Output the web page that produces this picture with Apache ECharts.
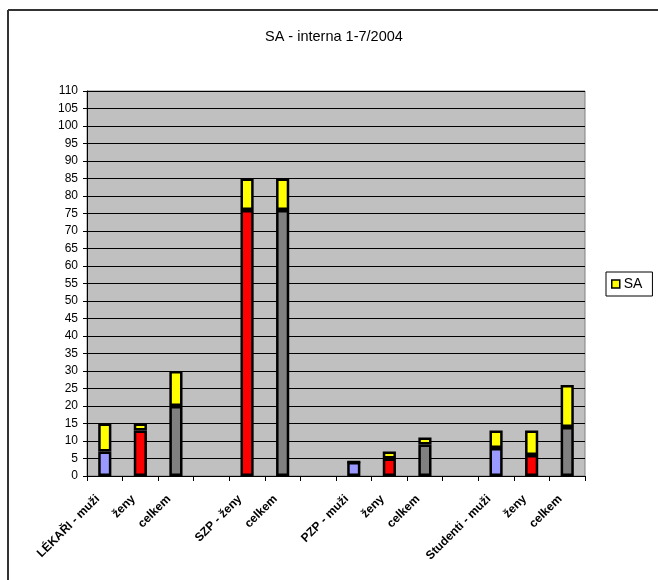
<!DOCTYPE html>
<html>
<head>
<meta charset="utf-8">
<script src="https://cdn.jsdelivr.net/npm/echarts@6/dist/echarts.min.js"></script>
<style>
  html, body { margin: 0; padding: 0; background: #fff; }
  #chart { width: 658px; height: 580px; }
</style>
</head>
<body>
<div id="chart"></div>
<script>
// Staff groups along the x axis; empty strings are spacer slots between groups
const categories = ['LÉKAŘI - muži', 'ženy', 'celkem', '', 'SZP - ženy', 'celkem', '', 'PZP - muži', 'ženy', 'celkem', '', 'Studenti - muži', 'ženy', 'celkem'];
// Kind of each base bar: m = muži, z = ženy, c = celkem
const kinds = ['m', 'z', 'c', null, 'z', 'c', null, 'm', 'z', 'c', null, 'm', 'z', 'c'];
// Base part of each column
const baseValues = [7, 13, 20, null, 76, 76, null, 4, 5, 9, null, 8, 6, 14];
// SA part stacked on top
const saValues = [8, 2, 10, null, 9, 9, null, 0, 2, 2, null, 5, 7, 12];
// Y axis range
const yMin = 0, yMax = 110, yStep = 5;

const kindColors = { m: '#9999FF', z: '#FF0000', c: '#808080' };
const FONT = '"Liberation Sans", Arial, sans-serif';

const chart = echarts.init(document.getElementById('chart'), null, { renderer: 'canvas' });

const baseData = baseValues.map((v, i) => v == null ? '-' : {
  value: v,
  itemStyle: { color: kindColors[kinds[i]] }
});
const saData = saValues.map(v => v == null ? '-' : v);

chart.setOption({
  backgroundColor: '#ffffff',
  animation: false,
  title: {
    text: 'SA - interna 1-7/2004',
    left: 260,
    top: 24,
    textStyle: { fontFamily: FONT, fontSize: 14.5, fontWeight: 'normal', color: '#000' }
  },
  legend: {
    data: ['SA'],
    orient: 'vertical',
    left: 606,
    top: 272,
    padding: [5, 10, 5, 5],
    borderColor: '#000',
    borderWidth: 1,
    icon: 'rect',
    itemWidth: 8,
    itemHeight: 8,
    itemGap: 4,
    itemStyle: { borderColor: '#000', borderWidth: 1.5 },
    textStyle: { fontFamily: FONT, fontSize: 14, color: '#000', padding: [0, 0, 0, -1] }
  },
  grid: {
    left: 87,
    right: 73,
    top: 91,
    bottom: 104,
    show: true,
    backgroundColor: '#C0C0C0',
    borderColor: '#808080',
    borderWidth: 1
  },
  xAxis: {
    type: 'category',
    data: categories,
    axisLine: { lineStyle: { color: '#000', width: 1 } },
    axisTick: { show: true, length: 5, lineStyle: { color: '#000' } },
    axisLabel: {
      interval: 0,
      rotate: 45,
      margin: 14,
      padding: [0, 10, 0, 0],
      fontFamily: FONT,
      fontSize: 12,
      fontWeight: 'bold',
      color: '#000'
    }
  },
  yAxis: {
    type: 'value',
    min: yMin,
    max: yMax,
    interval: yStep,
    axisLine: { show: true, lineStyle: { color: '#000', width: 1 } },
    axisTick: { show: true, length: 4, lineStyle: { color: '#000' } },
    axisLabel: { margin: 9, fontFamily: FONT, fontSize: 12, color: '#000' },
    splitLine: { show: true, lineStyle: { color: '#000', width: 1 } }
  },
  series: [
    {
      name: 'celkem',
      type: 'bar',
      stack: 'total',
      barWidth: '37%',
      data: baseData,
      itemStyle: { borderColor: '#000', borderWidth: 2.5 }
    },
    {
      name: 'SA',
      type: 'bar',
      stack: 'total',
      barWidth: '37%',
      data: saData,
      itemStyle: { color: '#FFFF00', borderColor: '#000', borderWidth: 2.5 }
    }
  ],
  graphic: [
    { type: 'line', shape: { x1: 8, y1: 10, x2: 658, y2: 10 }, style: { stroke: '#333', lineWidth: 2 } },
    { type: 'line', shape: { x1: 8, y1: 10, x2: 8, y2: 580 }, style: { stroke: '#333', lineWidth: 2 } }
  ]
});
</script>
</body>
</html>
